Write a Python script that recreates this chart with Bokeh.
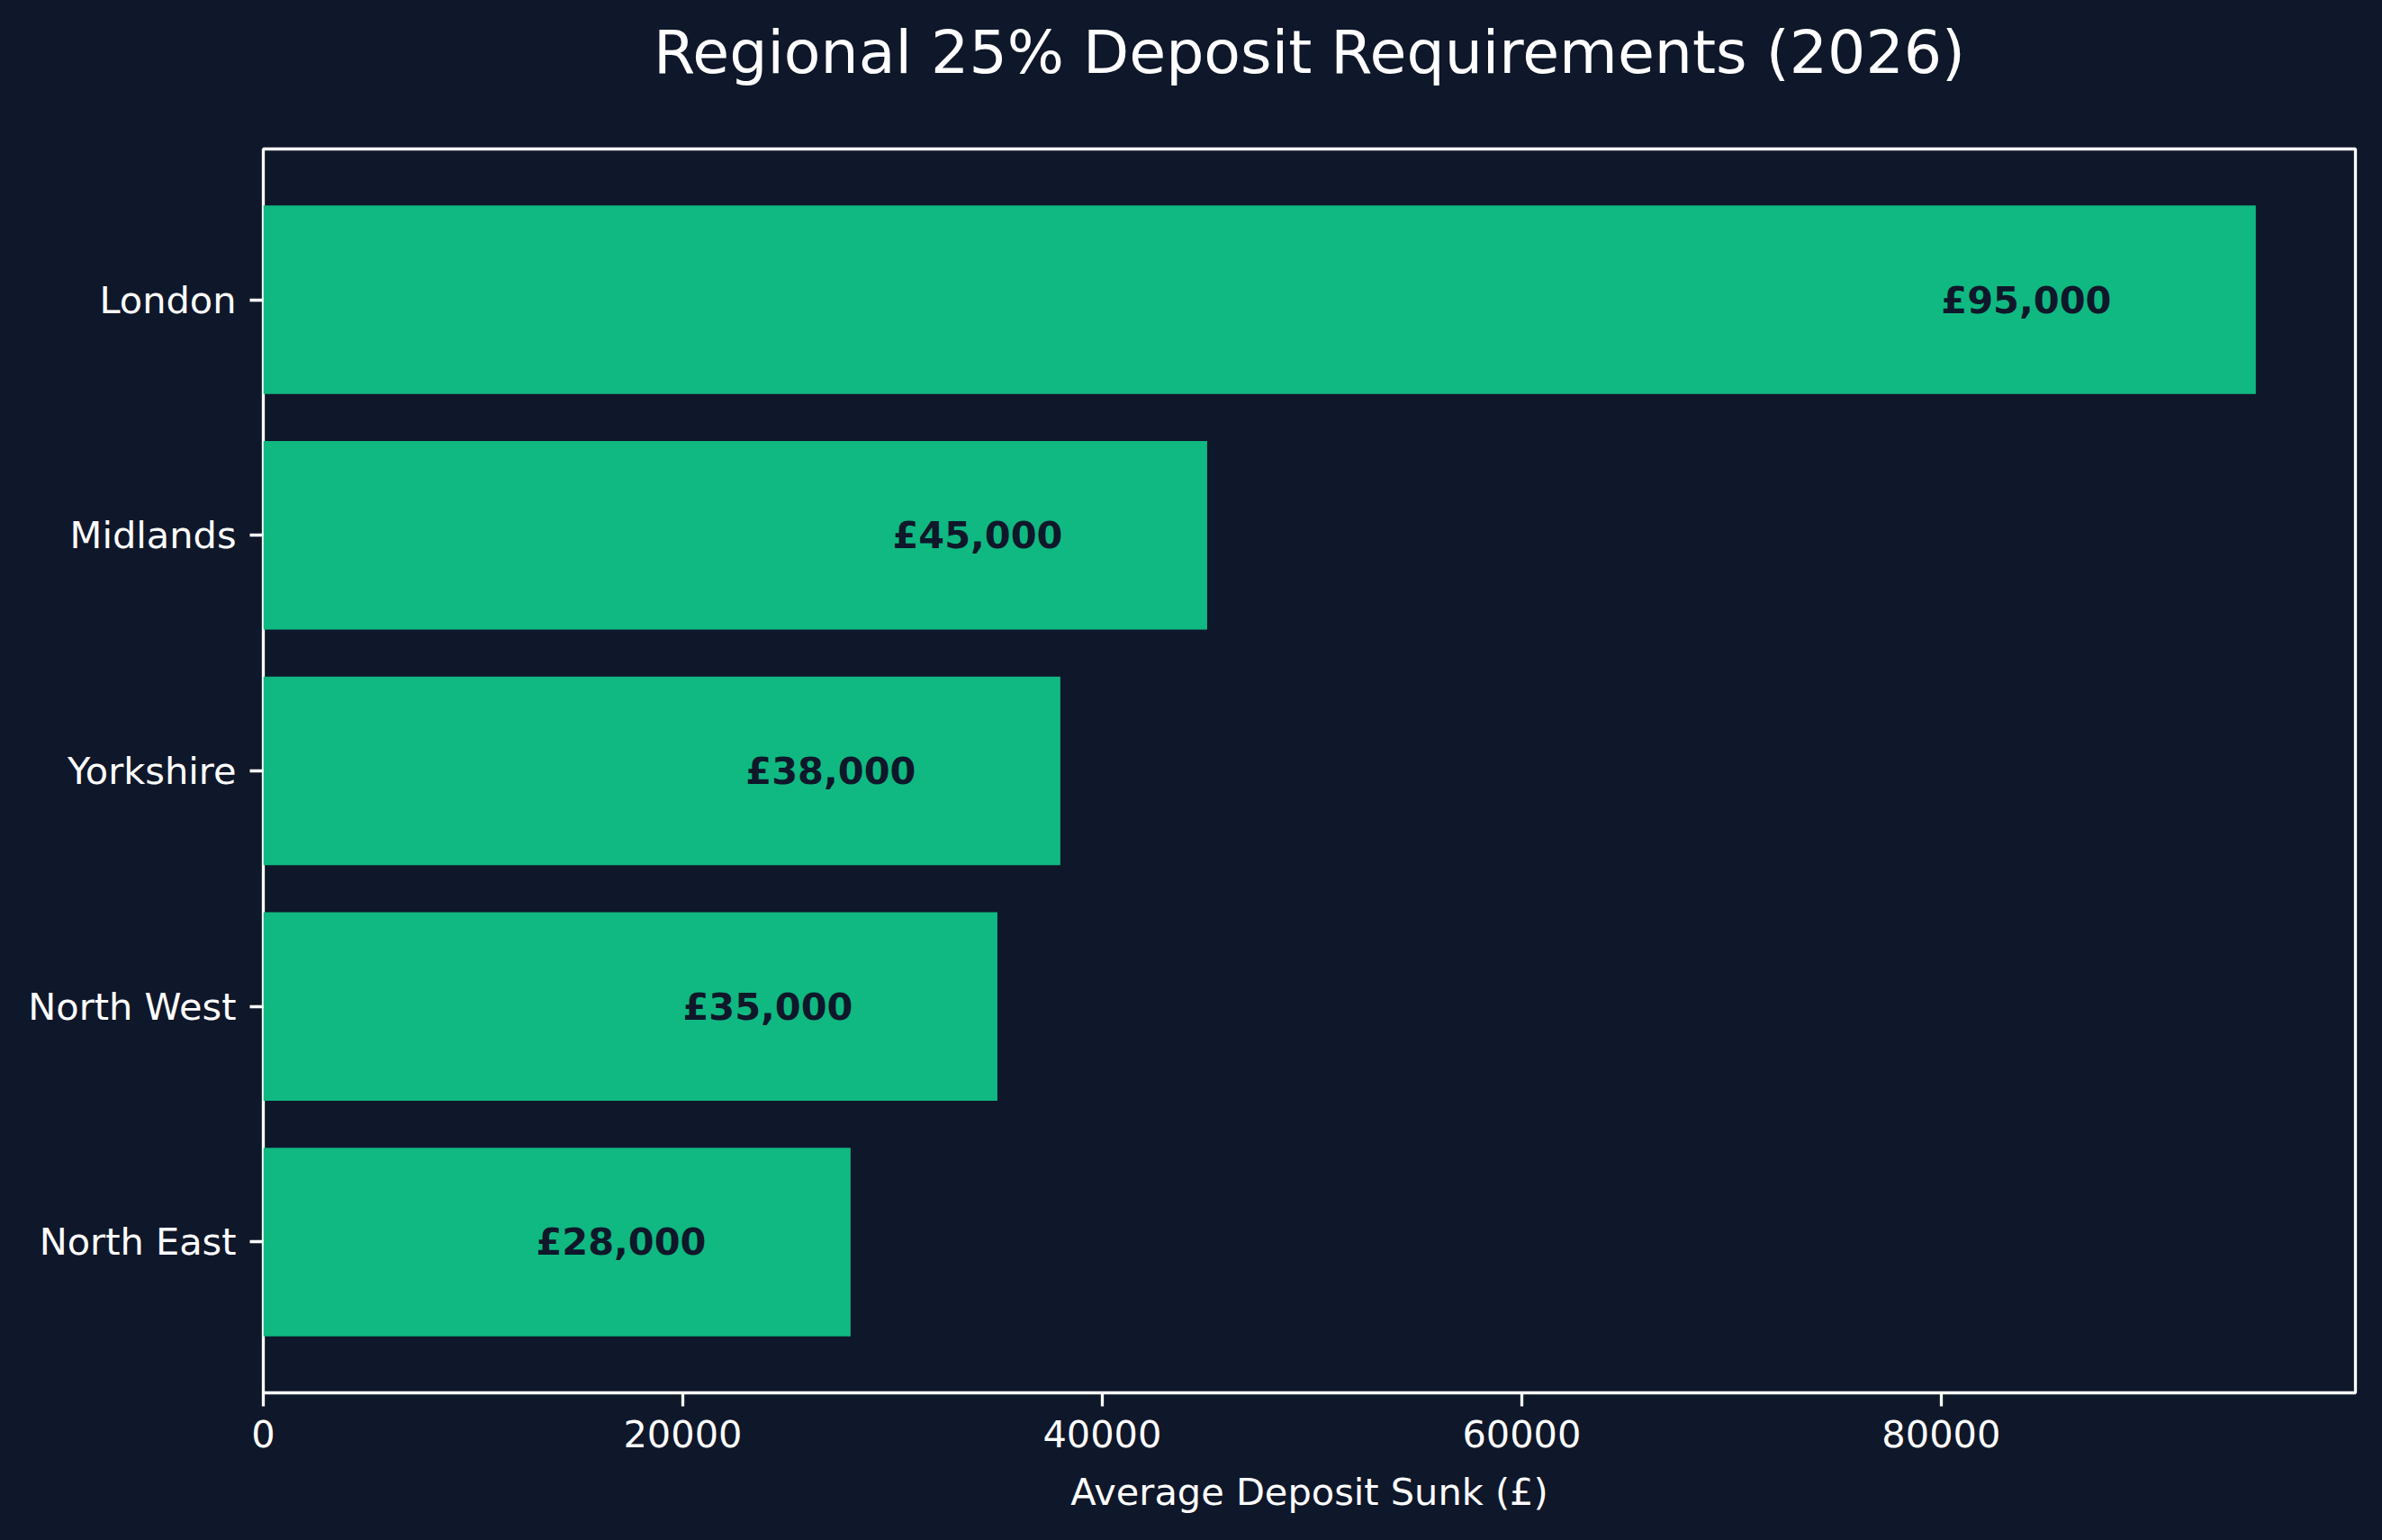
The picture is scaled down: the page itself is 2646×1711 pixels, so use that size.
from bokeh.plotting import figure
from bokeh.layouts import column
from bokeh.models import Range1d, FixedTicker, ColumnDataSource
from bokeh.embed import file_html
from bokeh.resources import INLINE
from bokeh.core.properties import value

regions = ["North East", "North West", "Yorkshire", "Midlands", "London"]
deposits = [28000, 35000, 38000, 45000, 95000]
bar_labels = ["£28,000", "£35,000", "£38,000", "£45,000", "£95,000"]
x_ticks = [0, 20000, 40000, 60000, 80000]
title_text = "Regional 25% Deposit Requirements (2026)"

BG = "#0f172a"
BAR = "#10b981"
FG = "#ffffff"
FONT = "DejaVu Sans"

W, H = 2646, 1711
TOP_H = 155          # height of title strip
ML, MR = 292, 30     # left/right borders around frame

ypos = list(range(len(regions)))
src = ColumnDataSource(dict(
    y=ypos,
    right=deposits,
    lx=[d - 15000 for d in deposits],
    lab=bar_labels,
))

xmax = max(deposits) * 1.05
n = len(regions)
span = (n - 1) + 0.8
ypad = 0.05 * span

# --- title strip -------------------------------------------------------
t = figure(width=W, height=TOP_H, output_backend="svg", toolbar_location=None,
           x_axis_location=None, y_axis_location=None,
           x_range=Range1d(0, xmax), y_range=Range1d(0, TOP_H),
           min_border_left=ML, min_border_right=MR, min_border_top=0, min_border_bottom=0)
t.grid.visible = False
t.outline_line_color = None
t.background_fill_color = BG
t.border_fill_color = BG
t.title.visible = False
t.text(x=[xmax / 2], y=[TOP_H - 57], text=[title_text], text_align="center",
       text_baseline="alphabetic", text_font=value(FONT), text_font_size="66.5px",
       text_color=FG)

# --- main chart --------------------------------------------------------
p = figure(width=W, height=H - TOP_H, output_backend="svg", toolbar_location=None,
           x_range=Range1d(0, xmax), y_range=Range1d(-0.4 - ypad, n - 1 + 0.4 + ypad),
           min_border_left=ML, min_border_right=MR, min_border_top=10, min_border_bottom=164)

p.background_fill_color = BG
p.border_fill_color = BG
p.outline_line_color = FG
p.outline_line_width = 3.3
p.grid.visible = False
p.title.visible = False

p.hbar(y="y", right="right", left=0, height=0.8, source=src, fill_color=BAR, line_color=None)
p.text(x="lx", y="y", text="lab", source=src, text_align="left", text_baseline="middle",
       text_font=value(FONT), text_font_style="bold", text_font_size="41.5px", text_color=BG)

for ax in (p.xaxis[0], p.yaxis[0]):
    ax.axis_line_color = None
    ax.major_tick_line_color = FG
    ax.major_tick_line_width = 3.3
    ax.major_tick_out = 15
    ax.major_tick_in = 0
    ax.minor_tick_line_color = None
    ax.major_label_text_color = FG
    ax.major_label_text_font = FONT
    ax.major_label_text_font_size = "41.5px"
    ax.major_label_standoff = 15

p.xaxis.ticker = FixedTicker(ticks=x_ticks)
p.xaxis.formatter.use_scientific = False
p.xaxis.axis_label = "Average Deposit Sunk (£)"
p.xaxis.axis_label_text_color = FG
p.xaxis.axis_label_text_font = FONT
p.xaxis.axis_label_text_font_size = "41.5px"
p.xaxis.axis_label_text_font_style = "normal"
p.xaxis.axis_label_standoff = 22

p.yaxis.ticker = FixedTicker(ticks=ypos)
p.yaxis.major_label_overrides = {i: r for i, r in zip(ypos, regions)}

layout = column(t, p, spacing=0)
layout.styles = {"background-color": BG}
open("out.html", "w").write(file_html(layout, INLINE))
